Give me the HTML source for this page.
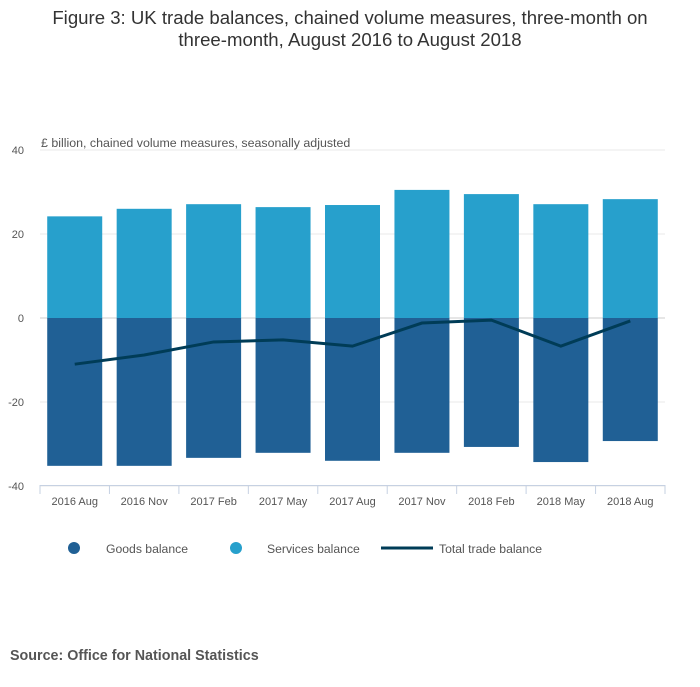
<!DOCTYPE html>
<html><head><meta charset="utf-8"><style>
body{margin:0;background:#fff;font-family:"Liberation Sans",sans-serif}
</style></head><body>
<svg id="c" width="700" height="682" xmlns="http://www.w3.org/2000/svg" font-family="Liberation Sans, sans-serif">
<text x="350" y="24" text-anchor="middle" font-size="18.6" fill="#333">Figure 3: UK trade balances, chained volume measures, three-month on</text>
<text x="350" y="46" text-anchor="middle" font-size="18.6" fill="#333">three-month, August 2016 to August 2018</text>
<text x="41" y="147" font-size="12.4" fill="#555">£ billion, chained volume measures, seasonally adjusted</text>
<g id="grid"></g><g id="bars"></g><g id="line"></g><g id="axis"></g>
<g>
<circle cx="74" cy="548" r="6" fill="#206095"/>
<text x="106" y="553" font-size="12.2" fill="#555">Goods balance</text>
<circle cx="236" cy="548" r="6" fill="#27a0cc"/>
<text x="267" y="553" font-size="12.2" fill="#555">Services balance</text>
<line x1="381" y1="548" x2="433" y2="548" stroke="#003c57" stroke-width="3"/>
<text x="439" y="553" font-size="12.2" fill="#555">Total trade balance</text>
</g>
<text x="10" y="660" font-size="14.3" font-weight="bold" fill="#555">Source: Office for National Statistics</text>
</svg>
<script>
const categories=["2016 Aug","2016 Nov","2017 Feb","2017 May","2017 Aug","2017 Nov","2018 Feb","2018 May","2018 Aug"];
const services=[24.2,26.0,27.1,26.4,26.9,30.5,29.5,27.1,28.3];
const goods=[-35.2,-35.2,-33.3,-32.1,-34.0,-32.1,-30.7,-34.3,-29.3];
const total=[-11.0,-8.8,-5.7,-5.2,-6.7,-1.2,-0.5,-6.7,-0.7];
const yTicks=[40,20,0,-20,-40];
const NS="http://www.w3.org/2000/svg";
const x0=40,x1=665,bw=(x1-x0)/categories.length;
const y=v=>318-v*4.2;
const xc=i=>x0+bw*(i+0.5);
function mk(t,a,p){const e=document.createElementNS(NS,t);for(const k in a)e.setAttribute(k,a[k]);document.getElementById(p).appendChild(e);return e;}
yTicks.forEach(t=>{
 const g=mk('line',{x1:x0,x2:x1,y1:y(t),y2:y(t),stroke:t===0?'#ccc':'#e8e8e8','stroke-width':1},'grid');
 
 
 const l=mk('text',{x:24,y:y(t)+4,'text-anchor':'end','font-size':11,fill:'#555'},'grid');l.textContent=t;
 
 
});
categories.forEach((c,i)=>{
 const w=55,bx=xc(i)-w/2;
 const s=mk('rect',{x:bx,y:y(services[i]),width:w,height:y(0)-y(services[i]),fill:'#27a0cc'},'bars');
 
 
 const g=mk('rect',{x:bx,y:y(0),width:w,height:y(goods[i])-y(0),fill:'#206095'},'bars');
 
 
 const t=mk('text',{x:xc(i),y:505,'text-anchor':'middle','font-size':11,fill:'#555'},'axis');t.textContent=c;
 
 
});
const ax=mk('line',{x1:x0,x2:x1,y1:485.5,y2:485.5,stroke:'#c6d1e2'},'axis');


for(let i=0;i<=categories.length;i++){const tk=mk('line',{x1:x0+bw*i,x2:x0+bw*i,y1:485,y2:494,stroke:'#c6d1e2'},'axis');
 
 }
const pl=mk('polyline',{points:total.map((v,i)=>xc(i)+','+y(v)).join(' '),fill:'none',stroke:'#003c57','stroke-width':3},'line');


</script>
</body></html>
